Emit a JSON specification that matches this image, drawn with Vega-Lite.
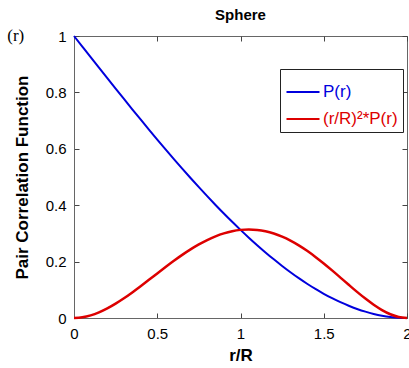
{
  "$schema": "https://vega.github.io/schema/vega-lite/v6.json",
  "width": 333,
  "height": 282,
  "autosize": "none",
  "padding": {"left": 74, "top": 36, "right": 2, "bottom": 50},
  "background": "white",
  "title": {"text": "Sphere", "fontSize": 15, "fontWeight": "bold", "font": "Liberation Sans", "color": "black", "frame": "group", "offset": 4},
  "config": {
    "font": "Liberation Sans",
    "view": {"stroke": "#666", "strokeWidth": 1},
    "axis": {"domainColor": "#666", "tickColor": "#444", "grid": false, "labelFont": "Liberation Sans", "labelFontSize": 15, "labelColor": "black", "titleFont": "Liberation Sans", "titleFontSize": 17, "titleFontWeight": "bold", "titleColor": "black", "tickSize": -5, "labelPadding": 13, "labelFlush": false}
  },
  "data": {"values": [
    {"r": 0, "p": 1, "q": 0},
    {"r": 0.05, "p": 0.96251, "q": 0.002406},
    {"r": 0.1, "p": 0.92506, "q": 0.009251},
    {"r": 0.15, "p": 0.88771, "q": 0.019973},
    {"r": 0.2, "p": 0.8505, "q": 0.03402},
    {"r": 0.25, "p": 0.81348, "q": 0.050842},
    {"r": 0.3, "p": 0.77669, "q": 0.069902},
    {"r": 0.35, "p": 0.74018, "q": 0.090672},
    {"r": 0.4, "p": 0.704, "q": 0.11264},
    {"r": 0.45, "p": 0.6682, "q": 0.13531},
    {"r": 0.5, "p": 0.63281, "q": 0.1582},
    {"r": 0.55, "p": 0.5979, "q": 0.18086},
    {"r": 0.6, "p": 0.5635, "q": 0.20286},
    {"r": 0.65, "p": 0.52966, "q": 0.22378},
    {"r": 0.7, "p": 0.49644, "q": 0.24325},
    {"r": 0.75, "p": 0.46387, "q": 0.26093},
    {"r": 0.8, "p": 0.432, "q": 0.27648},
    {"r": 0.85, "p": 0.40088, "q": 0.28964},
    {"r": 0.9, "p": 0.37056, "q": 0.30016},
    {"r": 0.95, "p": 0.34109, "q": 0.30783},
    {"r": 1.0, "p": 0.3125, "q": 0.3125},
    {"r": 1.05, "p": 0.28485, "q": 0.31405},
    {"r": 1.1, "p": 0.25819, "q": 0.31241},
    {"r": 1.15, "p": 0.23255, "q": 0.30755},
    {"r": 1.2, "p": 0.208, "q": 0.29952},
    {"r": 1.25, "p": 0.18457, "q": 0.28839},
    {"r": 1.3, "p": 0.16231, "q": 0.27431},
    {"r": 1.35, "p": 0.14127, "q": 0.25747},
    {"r": 1.4, "p": 0.1215, "q": 0.23814},
    {"r": 1.45, "p": 0.10304, "q": 0.21664},
    {"r": 1.5, "p": 0.085938, "q": 0.19336},
    {"r": 1.55, "p": 0.070242, "q": 0.16876},
    {"r": 1.6, "p": 0.056, "q": 0.14336},
    {"r": 1.65, "p": 0.043258, "q": 0.11777},
    {"r": 1.7, "p": 0.032063, "q": 0.092662},
    {"r": 1.75, "p": 0.022461, "q": 0.068787},
    {"r": 1.8, "p": 0.0145, "q": 0.04698},
    {"r": 1.85, "p": 0.008227, "q": 0.028157},
    {"r": 1.9, "p": 0.003688, "q": 0.013312},
    {"r": 1.95, "p": 0.00093, "q": 0.003536},
    {"r": 2.0, "p": 0, "q": 0}
  ]},
  "layer": [
    {
      "mark": {"type": "line", "strokeWidth": 2, "interpolate": "monotone"},
      "encoding": {
        "x": {"field": "r", "type": "quantitative", "scale": {"domain": [0, 2], "nice": false}, "axis": {"orient": "bottom", "title": "r/R", "values": [0, 0.5, 1, 1.5, 2], "format": "~g", "titlePadding": 6}},
        "y": {"field": "p", "type": "quantitative", "scale": {"domain": [0, 1], "nice": false}, "axis": {"orient": "left", "title": "Pair Correlation Function", "values": [0, 0.2, 0.4, 0.6, 0.8, 1], "format": "~g", "titlePadding": 14}},
        "color": {"datum": "P(r)", "type": "nominal", "scale": {"domain": ["P(r)", "(r/R)²*P(r)"], "range": ["#0000dd", "#dd0000"]},
          "legend": {"title": null, "orient": "none", "legendX": 206, "legendY": 33, "strokeColor": "#222", "fillColor": "white", "padding": 5, "symbolType": "stroke", "symbolSize": 1089, "symbolStrokeWidth": 2.2, "labelFontSize": 17, "labelFont": "Liberation Sans", "labelOffset": 2, "rowPadding": 1,
            "encode": {"labels": {"update": {"fill": {"scale": "color", "field": "value"}}}}}}
      }
    },
    {
      "mark": {"type": "line", "strokeWidth": 2.5, "interpolate": "monotone"},
      "encoding": {
        "x": {"field": "r", "type": "quantitative", "axis": {"orient": "top", "title": null, "labels": false, "values": [0, 0.5, 1, 1.5, 2], "domain": false}},
        "y": {"field": "q", "type": "quantitative", "axis": {"orient": "right", "title": null, "labels": false, "values": [0, 0.2, 0.4, 0.6, 0.8, 1], "domain": false}},
        "color": {"datum": "(r/R)²*P(r)", "type": "nominal"}
      }
    },
    {
      "data": {"values": [{"r": -0.35, "v": 1, "t": "(r)"}]},
      "mark": {"type": "text", "font": "Liberation Serif", "fontSize": 17, "align": "center", "baseline": "middle", "color": "black"},
      "encoding": {
        "x": {"field": "r", "type": "quantitative", "axis": null},
        "y": {"field": "v", "type": "quantitative", "axis": null},
        "text": {"field": "t"}
      }
    }
  ],
  "resolve": {"axis": {"x": "independent", "y": "independent"}}
}
